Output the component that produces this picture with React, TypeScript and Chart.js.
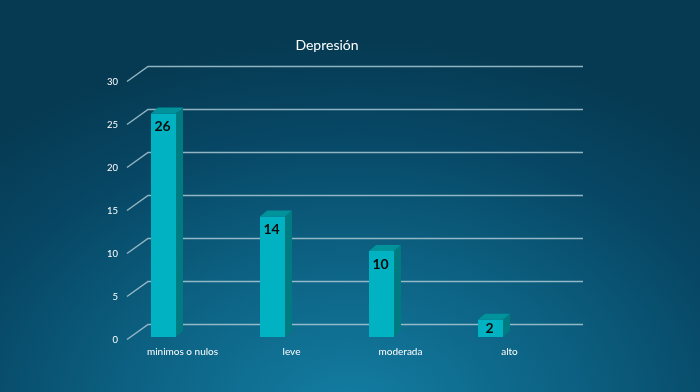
import React, { useEffect, useRef } from "react";
import { Chart, registerables } from "chart.js";

Chart.register(...registerables);

const TITLE = "Depresión";
const categories = ["minimos o nulos", "leve", "moderada", "alto"];
const values = [26, 14, 10, 2];
const yTicks = [0, 5, 10, 15, 20, 25, 30];

const FONT = "Lato, 'Open Sans', sans-serif";
const FRONT = "#00b2c2";
const SIDE = "#007b82";
const TOP = "#00939b";
const GRID = "rgba(170,200,212,0.85)";
const DX = 7;
const DY = -6;

const threeD = {
  id: "threeD",
  beforeDatasetsDraw(chart: any) {
    const { ctx, chartArea, scales } = chart;
    const y = scales.y;
    ctx.save();
    ctx.strokeStyle = GRID;
    ctx.lineWidth = 1.5;
    ctx.fillStyle = "#ffffff";
    ctx.font = `9.5px ${FONT}`;
    ctx.textAlign = "right";
    ctx.textBaseline = "middle";
    for (const v of yTicks) {
      const py = y.getPixelForValue(v);
      ctx.beginPath();
      ctx.moveTo(chartArea.left + 18, py + 2.5);
      ctx.lineTo(chartArea.left + 39, py - 12.5);
      ctx.lineTo(chartArea.right + 38, py - 12.5);
      ctx.stroke();
      ctx.fillText(String(v), chartArea.left + 9, py + 3);
    }
    ctx.restore();
  },
  afterDatasetsDraw(chart: any) {
    const { ctx } = chart;
    const meta = chart.getDatasetMeta(0);
    ctx.save();
    meta.data.forEach((el: any, i: number) => {
      const { x, y, base, width } = el.getProps(["x", "y", "base", "width"], true);
      const l = x - width / 2;
      const r = x + width / 2;
      // side face
      ctx.fillStyle = SIDE;
      ctx.beginPath();
      ctx.moveTo(r, y);
      ctx.lineTo(r + DX, y + DY);
      ctx.lineTo(r + DX, base + DY);
      ctx.lineTo(r, base);
      ctx.closePath();
      ctx.fill();
      // top face
      ctx.fillStyle = TOP;
      ctx.beginPath();
      ctx.moveTo(l, y);
      ctx.lineTo(l + DX, y + DY);
      ctx.lineTo(r + DX, y + DY);
      ctx.lineTo(r, y);
      ctx.closePath();
      ctx.fill();
      // value label
      ctx.fillStyle = "#0a0a0a";
      ctx.font = `bold 14px ${FONT}`;
      ctx.textAlign = "center";
      ctx.textBaseline = "middle";
      const ly = Math.min(y + 13, (y + base) / 2);
      ctx.fillText(String(values[i]), x - 1, ly);
    });
    ctx.restore();
  },
};

export default function App() {
  const ref = useRef<HTMLCanvasElement | null>(null);
  useEffect(() => {
    if (!ref.current) return;
    const chart = new Chart(ref.current, {
      type: "bar",
      data: {
        labels: categories,
        datasets: [
          {
            data: values,
            backgroundColor: FRONT,
            borderWidth: 0,
            barPercentage: 25 / 109,
            categoryPercentage: 1,
          },
        ],
      },
      options: {
        responsive: false,
        animation: false,
        devicePixelRatio: 1,
        layout: { padding: { left: 109, right: 155, top: 8.2, bottom: 25 } },
        plugins: {
          legend: { display: false },
          tooltip: { enabled: false },
          title: {
            display: true,
            text: TITLE,
            color: "#ffffff",
            font: { family: FONT, size: 14, weight: "normal", lineHeight: 1.2 },
            padding: { top: 29, bottom: 25 },
          },
        },
        scales: {
          x: {
            type: "category",
            grid: { display: false, drawTicks: false },
            border: { display: false },
            ticks: {
              color: "#ffffff",
              font: { family: FONT, size: 10 },
              padding: 9,
              labelOffset: 19,
              maxRotation: 0,
            },
            afterFit(scale: any) {
              scale.height = 30;
            },
          },
          y: {
            display: false,
            min: 0,
            max: 30,
            ticks: { stepSize: 5 },
          },
        },
      },
      plugins: [threeD],
    });
    return () => chart.destroy();
  }, []);
  return (
    <div
      style={{
        position: "fixed",
        left: 0,
        top: 0,
        width: 700,
        height: 392,
        background:
          "radial-gradient(ellipse 75% 95% at 50% 105%, #137ea3 0%, #0c5f80 45%, #074765 75%, #063a52 100%)",
      }}
    >
      <canvas ref={ref} width={700} height={392} />
    </div>
  );
}
